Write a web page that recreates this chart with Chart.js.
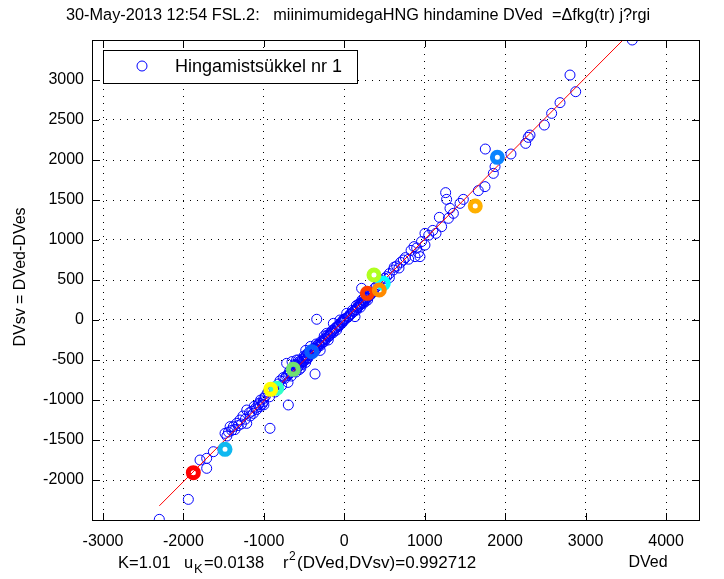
<!DOCTYPE html>
<html>
<head>
<meta charset="utf-8">
<script src="https://cdn.jsdelivr.net/npm/chart.js@4"></script>
<style>
  html, body { margin: 0; padding: 0; background: #fff; }
  #wrap { width: 724px; height: 579px; position: relative; }
</style>
</head>
<body>
<div id="wrap"><canvas id="fig"></canvas></div>
<script>
// ---- data ----
const xTicks = [-3000, -2000, -1000, 0, 1000, 2000, 3000, 4000];
const yTicks = [-2000, -1500, -1000, -500, 0, 500, 1000, 1500, 2000, 2500, 3000];

// blue open circles (DVed, DVsv)
const cycleX = [3580, 2806, 2877, 2682, 2578, 2487, 2309, 2287, 2255, 2072, 1753, 1874, 1853, 1749, 1666,
  1480, 1439, 1260, 1272, 1314, 1356, 1294, 1182, 1210, 1003, 1140, 1003, 867, 921, 941, 879, 734, 651, 610,
  527, 480, 560, 215, 320, 300, 270, 250, 236, 220, 210, 190, 170, 153, 133, 120, 90, 60, 40, 30, 0, -20,
  -40, -53, -80, -95, -120, -136, -160, -180, -200, -220, -240, -260, -282, -300, -320, -350, -370, -390,
  -420, -430, -450, -469, -480, -500, -520, -540, -560, -580, -593, -600, -620, -640, -660, -680, -700,
  -717, -737, -760, -780, -800, -820, -860, -880, -900, -930, -950, -980, -1007, -1048, -1060, -1100,
  -1131, -1180, -1213, -1213, -1260, -1297, -1338, -1380, -1420, -1440, -1483, -1628, -1711, -1794, -1711,
  -1939, -2300, -343, -364, -696, -924, 100, 180, 260, -10, -60, -140, -250, -330, -410, -460, -530, -610,
  -670, -720, -650, -560, -420, -300, -700, -480,
  -690, -650, -630, -590, -570, -550, -510, -490, -470, -440, -400, -380, -360, -340, -310, -290, -270,
  -230, -210, -190, -170, -150, -130, -110, -90, -70, -30, -5, 15, 50, 70, 110, 140, 160, 200, 230, 240,
  280, 310, 340, 360, 380, 400, 430, -620, -570, -500, -450, -540, -480, -600, -350, -250, -200, 150, 200,
  250, 290,
  -1000, -1020, -1070, -1090, -1150, -1170, -1230, -1280, -1320, -1360, -1400, -1460, -1040, -1120, -1000,
  700, 760, 800, 830, 900, 960, 1050, 1100, 620, 680, 560, 500, 450];
const cycleY = [3500, 3062, 2854, 2717, 2583, 2437, 2312, 2283, 2208, 2075, 2137, 1917, 1833, 1667, 1617,
  1508, 1458, 1592, 1508, 1396, 1333, 1271, 1283, 1167, 1083, 1083, 937, 917, 842, 792, 792, 750, 675, 625,
  542, 470, 530, 396, 310, 290, 270, 240, 208, 250, 200, 180, 160, 125, 42, 110, 80, 50, 30, 83, 10, -20,
  -30, 0, -70, -125, -110, -42, -150, -170, -210, -167, -230, -250, -292, -320, -300, -360, -350, -380,
  -430, -400, -470, -437, -450, -510, -490, -540, -520, -590, -500, -560, -640, -600, -700, -640, -690,
  -542, -729, -720, -820, -760, -800, -900, -840, -880, -960, -900, -950, -1021, -1083, -1040, -1100,
  -1167, -1160, -1125, -1292, -1200, -1250, -1292, -1333, -1333, -1400, -1417, -1646, -1729, -1750, -1854,
  -2242, -2492, 9, -675, -1062, -1354, 120, 200, 230, 5, -60, -160, -270, -340, -400, -480, -560, -590,
  -660, -700, -520, -620, -330, -380, -780, -380,
  -670, -630, -610, -570, -580, -530, -520, -470, -490, -440, -410, -360, -380, -320, -310, -270, -280,
  -240, -190, -200, -180, -130, -140, -100, -90, -80, -40, -10, 20, 40, 70, 100, 130, 150, 210, 220, 260,
  280, 320, 330, 350, 400, 420, 440, -560, -500, -450, -410, -600, -530, -650, -300, -200, -250, 180, 160,
  280, 250,
  -980, -1050, -1060, -1120, -1140, -1200, -1240, -1300, -1320, -1370, -1380, -1450, -1000, -1080, -1060,
  720, 780, 760, 870, 900, 980, 1060, 1120, 660, 650, 580, 520, 500];

// thick coloured markers
const markX = [-1877, -1483, -840, -915, -634, -405, 286, 485, 435, 369, 1628, 1903];
const markY = [-1908, -1617, -854, -867, -617, -396, 333, 458, 375, 562, 1425, 2033];
const markColors = ['#ff0000', '#10b8f0', '#30ffc8', '#ffff00', '#70e070', '#0a5cff',
  '#ff3c00', '#00ffff', '#ff8a00', '#b0ff20', '#ffb000', '#0a84ff'];

// fitted line DVsv = K*DVed
const fitX = [-2300, 3465];
const fitY = [-2323, 3500];

const xMin = -3137, xMax = 4410, yMin = -2500, yMax = 3500;

const FONT = '"Liberation Sans", Arial, sans-serif';

function pts(xs, ys) { return xs.map((x, i) => ({ x: x, y: ys[i] })); }

const frame = {
  id: 'frame',
  afterDraw(chart) {
    const ctx = chart.ctx, a = chart.chartArea;
    const sx = chart.scales.x, sy = chart.scales.y;
    ctx.save();
    ctx.strokeStyle = '#000';
    ctx.lineWidth = 1;
    ctx.setLineDash([]);
    ctx.strokeRect(Math.round(a.left) + 0.5, Math.round(a.top) + 0.5,
      Math.round(a.right - a.left), Math.round(a.bottom - a.top));
    // inward tick marks
    ctx.beginPath();
    xTicks.forEach(v => {
      const px = Math.round(sx.getPixelForValue(v)) + 0.5;
      ctx.moveTo(px, a.bottom); ctx.lineTo(px, a.bottom - 7);
      ctx.moveTo(px, a.top); ctx.lineTo(px, a.top + 7);
    });
    yTicks.forEach(v => {
      const py = Math.round(sy.getPixelForValue(v)) + 0.5;
      ctx.moveTo(a.left, py); ctx.lineTo(a.left + 7, py);
      ctx.moveTo(a.right, py); ctx.lineTo(a.right - 7, py);
    });
    ctx.stroke();

    // legend
    ctx.fillStyle = '#fff';
    ctx.fillRect(103, 50, 254, 33);
    ctx.strokeRect(103.5, 50.5, 254, 33);
    ctx.strokeStyle = '#0000ff';
    ctx.beginPath();
    ctx.arc(142, 66, 5, 0, Math.PI * 2);
    ctx.stroke();
    ctx.fillStyle = '#000';
    ctx.textBaseline = 'middle';
    ctx.textAlign = 'left';
    ctx.font = '18px ' + FONT;
    ctx.fillText('Hingamistsükkel nr 1', 175, 67);

    // title
    ctx.font = '16.3px ' + FONT;
    ctx.fillText('30-May-2013 12:54 FSL.2:   miinimumidegaHNG hindamine DVed  =\u0394fkg(tr) j?rgi', 66, 16);

    // bottom line with sub/superscripts
    const yb = 563;
    const part = (t, x, size, dy) => {
      ctx.font = size + 'px ' + FONT;
      ctx.fillText(t, x, yb + dy);
    };
    part('K=1.01', 118, 16.5, 0);
    part('u', 184, 16.5, 0);
    part('K', 194, 13, 6);
    part('=0.0138', 204, 16.5, 0);
    part('r', 283, 16.5, 0);
    part('2', 289, 12, -6);
    part('(DVed,DVsv)=0.992712', 297, 17, 0);
    ctx.font = '16px ' + FONT;
    ctx.textAlign = 'center';
    ctx.fillText('DVed', 648, yb);

    // y label
    ctx.translate(21, 277);
    ctx.rotate(-Math.PI / 2);
    ctx.fillText('DVsv = DVed-DVes', 0, 0);
    ctx.restore();
  }
};

new Chart(document.getElementById('fig'), {
  type: 'scatter',
  data: {
    datasets: [
      {
        label: 'marks',
        data: pts(markX, markY),
        pointStyle: 'circle',
        pointRadius: 5,
        pointBorderWidth: 5,
        pointBorderColor: markColors,
        pointBackgroundColor: 'rgba(0,0,0,0)',
        order: 0
      },
      {
        type: 'line',
        label: 'fit',
        data: pts(fitX, fitY),
        borderColor: '#ff0000',
        borderWidth: 1,
        pointRadius: 0,
        fill: false,
        order: 1
      },
      {
        label: 'Hingamistsükkel nr 1',
        data: pts(cycleX, cycleY),
        pointStyle: 'circle',
        pointRadius: 5,
        pointBorderWidth: 1,
        pointBorderColor: '#0000ff',
        pointBackgroundColor: 'rgba(0,0,0,0)',
        order: 2
      }
    ]
  },
  options: {
    responsive: true,
    maintainAspectRatio: false,
    animation: false,
    events: [],
    layout: { padding: { left: 0, top: 40, right: 25, bottom: 0 } },
    plugins: { legend: { display: false }, tooltip: { enabled: false }, title: { display: false } },
    scales: {
      x: {
        type: 'linear',
        min: xMin, max: xMax,
        afterBuildTicks: s => { s.ticks = xTicks.map(v => ({ value: v })); },
        afterFit: s => { s.height = 59; },
        grid: { color: '#000', lineWidth: 1, drawTicks: false },
        border: { display: false, dash: [1, 6] },
        ticks: {
          color: '#000', padding: 12, maxRotation: 0, autoSkip: false,
          font: { family: FONT, size: 16 },
          callback: v => String(v)
        }
      },
      y: {
        type: 'linear',
        min: yMin, max: yMax,
        afterBuildTicks: s => { s.ticks = yTicks.map(v => ({ value: v })); },
        afterFit: s => { s.width = 92; },
        grid: { color: '#000', lineWidth: 1, drawTicks: false },
        border: { display: false, dash: [1, 6] },
        ticks: {
          color: '#000', padding: 8, autoSkip: false,
          font: { family: FONT, size: 16 },
          callback: v => String(v)
        }
      }
    }
  },
  plugins: [frame]
});
</script>
</body>
</html>
